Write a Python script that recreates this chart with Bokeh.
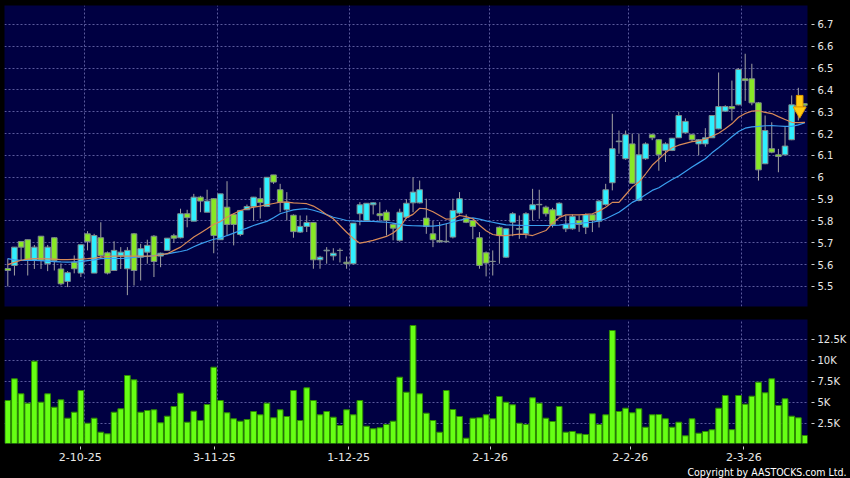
from bokeh.plotting import figure
from bokeh.layouts import column
from bokeh.models import Range1d, FixedTicker, Title, ColumnDataSource, GlobalInlineStyleSheet
from bokeh.embed import file_html
from bokeh.resources import INLINE

# ---------------- data ----------------
opens = [5.582, 5.596, 5.706, 5.714, 5.619, 5.730, 5.604, 5.723, 5.580, 5.523,
         5.611, 5.561, 5.741, 5.561, 5.723, 5.654, 5.573, 5.640, 5.581, 5.741,
         5.634, 5.657, 5.730, 5.639, 5.665, 5.732, 5.723, 5.833, 5.799, 5.909,
         5.840, 5.902, 5.714, 5.863, 5.830, 5.738, 5.851, 5.866, 5.902, 5.866,
         6.011, 5.943, 5.851, 5.826, 5.749, 5.775, 5.793, 5.622, 5.663, 5.640,
         5.665, 5.611, 5.604, 5.833, 5.802, 5.874, 5.833, 5.840, 5.784, 5.711,
         5.817, 5.883, 5.883, 5.813, 5.741, 5.710, 5.705, 5.726, 5.836, 5.813,
         5.802, 5.723, 5.654, 5.615, 5.771, 5.634, 5.794, 5.762, 5.741, 5.851,
         5.874, 5.863, 5.851, 5.825, 5.764, 5.764, 5.802, 5.771, 5.828, 5.799,
         5.875, 5.975, 6.163, 6.085, 6.153, 5.894, 6.085, 6.195, 6.172, 6.123,
         6.123, 6.181, 6.204, 6.195, 6.153, 6.153, 6.181, 6.222, 6.303, 6.324,
         6.332, 6.451, 6.451, 6.341, 6.062, 6.131, 6.103, 6.103, 6.172, 6.330,
         6.337]
highs = [5.628, 5.680, 5.706, 5.714, 5.690, 5.730, 5.690, 5.725, 5.605, 5.570,
         5.642, 5.691, 5.753, 5.741, 5.794, 5.660, 5.707, 5.680, 5.680, 5.745,
         5.695, 5.714, 5.735, 5.655, 5.721, 5.741, 5.856, 5.851, 5.924, 5.915,
         5.943, 5.905, 5.924, 5.982, 5.835, 5.850, 5.875, 5.910, 5.952, 6.000,
         6.011, 5.970, 5.932, 5.830, 5.825, 5.825, 5.795, 5.640, 5.680, 5.675,
         5.675, 5.637, 5.790, 5.886, 5.881, 5.885, 5.886, 5.851, 5.790, 5.856,
         5.900, 6.000, 5.985, 5.902, 5.800, 5.795, 5.790, 5.902, 5.932, 5.830,
         5.805, 5.749, 5.660, 5.665, 5.775, 5.765, 5.840, 5.825, 5.840, 5.947,
         5.943, 5.870, 5.860, 5.885, 5.825, 5.830, 5.825, 5.835, 5.830, 5.895,
         5.970, 6.291, 6.214, 6.214, 6.200, 6.200, 6.160, 6.200, 6.175, 6.160,
         6.180, 6.300, 6.270, 6.200, 6.175, 6.225, 6.285, 6.480, 6.330, 6.443,
         6.500, 6.566, 6.520, 6.345, 6.283, 6.252, 6.130, 6.230, 6.375, 6.410,
         6.340]
lows = [5.500, 5.550, 5.620, 5.550, 5.580, 5.580, 5.570, 5.573, 5.505, 5.497,
        5.560, 5.543, 5.665, 5.561, 5.628, 5.555, 5.573, 5.580, 5.460, 5.504,
        5.527, 5.604, 5.543, 5.588, 5.665, 5.700, 5.720, 5.771, 5.799, 5.840,
        5.840, 5.652, 5.714, 5.733, 5.688, 5.730, 5.850, 5.802, 5.811, 5.866,
        5.970, 5.840, 5.802, 5.723, 5.745, 5.749, 5.581, 5.581, 5.604, 5.619,
        5.610, 5.581, 5.600, 5.780, 5.800, 5.830, 5.800, 5.733, 5.711, 5.705,
        5.810, 5.840, 5.880, 5.741, 5.680, 5.700, 5.700, 5.720, 5.830, 5.790,
        5.717, 5.581, 5.546, 5.550, 5.604, 5.630, 5.730, 5.718, 5.720, 5.802,
        5.810, 5.820, 5.770, 5.820, 5.749, 5.760, 5.750, 5.740, 5.749, 5.770,
        5.870, 5.940, 6.108, 6.080, 5.970, 5.890, 6.080, 6.170, 6.030, 6.070,
        6.120, 6.180, 6.200, 6.165, 6.100, 6.140, 6.180, 6.220, 6.300, 6.260,
        6.330, 6.350, 6.330, 5.985, 6.060, 6.110, 6.023, 6.100, 6.170, 6.260,
        6.320]
closes = [5.573, 5.680, 5.680, 5.619, 5.680, 5.620, 5.680, 5.619, 5.512, 5.563,
          5.581, 5.691, 5.706, 5.733, 5.642, 5.561, 5.665, 5.657, 5.665, 5.573,
          5.673, 5.688, 5.614, 5.652, 5.721, 5.721, 5.833, 5.815, 5.909, 5.891,
          5.891, 5.733, 5.924, 5.784, 5.784, 5.848, 5.866, 5.909, 5.884, 6.000,
          5.978, 5.886, 5.886, 5.751, 5.775, 5.793, 5.622, 5.634, 5.666, 5.652,
          5.665, 5.604, 5.790, 5.874, 5.881, 5.883, 5.824, 5.802, 5.767, 5.840,
          5.881, 5.932, 5.943, 5.775, 5.714, 5.705, 5.707, 5.848, 5.902, 5.794,
          5.775, 5.596, 5.607, 5.614, 5.733, 5.764, 5.833, 5.765, 5.833, 5.874,
          5.876, 5.833, 5.784, 5.881, 5.784, 5.820, 5.784, 5.828, 5.802, 5.891,
          5.943, 6.131, 6.166, 6.195, 5.973, 6.103, 6.153, 6.181, 6.103, 6.153,
          6.179, 6.283, 6.256, 6.172, 6.172, 6.181, 6.283, 6.324, 6.324, 6.314,
          6.494, 6.443, 6.341, 6.034, 6.214, 6.115, 6.095, 6.143, 6.332, 6.300,
          6.330]
volumes = [5274, 7857, 6071, 4953, 9952, 5072, 6071, 4476, 5357, 3167,
           3881, 6464, 2571, 3167, 1500, 1310, 3881, 4286, 8250, 7738,
           3881, 4083, 4167, 2619, 3405, 4560, 6143, 2690, 4000, 2893,
           4798, 9238, 5274, 3810, 3095, 2810, 3012, 3964, 3571, 4953,
           3214, 4167, 3369, 6464, 2893, 6786, 5274, 3571, 3964, 3286,
           2298, 4167, 3571, 5274, 2214, 1905, 2024, 2417, 2810, 8048,
           6262, 14202, 6071, 3762, 2893, 1500, 6464, 4202, 3369, 786,
           3167, 3214, 3571, 3095, 5750, 5072, 4762, 2571, 2417, 5595,
           4953, 3167, 2774, 4560, 1500, 1583, 1310, 1230, 3690, 2417,
           3571, 13607, 3964, 4357, 3810, 4286, 2095, 3571, 3600, 3095,
           2095, 2690, 1071, 3095, 1381, 1583, 1786, 4357, 5869, 1800,
           5869, 4833, 5786, 7452, 6190, 7857, 4679, 5476, 3405, 3214,
           1107]
ma_short = [5.600, 5.610, 5.620, 5.625, 5.627, 5.627, 5.626, 5.625, 5.623, 5.623,
            5.624, 5.625, 5.627, 5.630, 5.634, 5.637, 5.639, 5.639, 5.639, 5.639,
            5.639, 5.639, 5.640, 5.645, 5.650, 5.665, 5.680, 5.703, 5.726, 5.745,
            5.764, 5.785, 5.797, 5.817, 5.833, 5.848, 5.856, 5.863, 5.868, 5.874,
            5.880, 5.886, 5.886, 5.883, 5.881, 5.879, 5.868, 5.850, 5.828, 5.810,
            5.779, 5.748, 5.720, 5.698, 5.704, 5.711, 5.720, 5.729, 5.745, 5.770,
            5.815, 5.830, 5.858, 5.855, 5.842, 5.825, 5.808, 5.810, 5.825, 5.820,
            5.810, 5.780, 5.755, 5.738, 5.733, 5.733, 5.736, 5.740, 5.738, 5.733,
            5.745, 5.756, 5.790, 5.815, 5.828, 5.828, 5.828, 5.830, 5.833, 5.845,
            5.863, 5.885, 5.885, 5.920, 5.955, 5.978, 6.015, 6.055, 6.083, 6.112,
            6.135, 6.147, 6.155, 6.163, 6.167, 6.175, 6.188, 6.202, 6.222, 6.245,
            6.275, 6.292, 6.303, 6.305, 6.297, 6.292, 6.278, 6.265, 6.252, 6.250,
            6.252]
ma_long = [5.627, 5.622, 5.619, 5.619, 5.619, 5.618, 5.616, 5.614, 5.612, 5.611,
           5.612, 5.614, 5.618, 5.622, 5.627, 5.628, 5.628, 5.628, 5.630, 5.633,
           5.636, 5.638, 5.641, 5.645, 5.649, 5.655, 5.660, 5.667, 5.682, 5.695,
           5.706, 5.716, 5.721, 5.733, 5.744, 5.756, 5.767, 5.779, 5.789, 5.798,
           5.815, 5.833, 5.842, 5.851, 5.854, 5.856, 5.849, 5.840, 5.829, 5.817,
           5.810, 5.802, 5.800, 5.798, 5.798, 5.798, 5.796, 5.794, 5.790, 5.784,
           5.780, 5.778, 5.777, 5.776, 5.776, 5.780, 5.787, 5.795, 5.803, 5.810,
           5.814, 5.808, 5.800, 5.794, 5.788, 5.782, 5.781, 5.780, 5.779, 5.779,
           5.779, 5.779, 5.779, 5.781, 5.785, 5.787, 5.789, 5.792, 5.794, 5.800,
           5.810, 5.825, 5.840, 5.862, 5.885, 5.900, 5.920, 5.940, 5.952, 5.972,
           5.990, 6.006, 6.027, 6.047, 6.066, 6.085, 6.112, 6.135, 6.160, 6.186,
           6.210, 6.225, 6.231, 6.233, 6.236, 6.237, 6.235, 6.233, 6.233, 6.240,
           6.250]

price_ticks = [5.5, 5.6, 5.7, 5.8, 5.9, 6.0, 6.1, 6.2, 6.3, 6.4, 6.5, 6.6, 6.7]
price_tick_labels = ["5.5", "5.6", "5.7", "5.8", "5.9", "6", "6.1", "6.2",
                     "6.3", "6.4", "6.5", "6.6", "6.7"]
vol_ticks = [2500, 5000, 7500, 10000, 12500]
vol_tick_labels = ["2.5K", "5K", "7.5K", "10K", "12.5K"]
date_tick_pos = [10.9, 31.1, 51.3, 72.6, 93.7, 110.8]
date_tick_labels = ["2-10-25", "3-11-25", "1-12-25", "2-1-26", "2-2-26", "2-3-26"]
month_grid_pos = [11.5, 31.5, 51.5, 72.5, 93.5, 110.4]
signal_x = [119.2]
signal_top = [6.375]
signal_neck = [6.322]
signal_head = [6.305]
copyright_text = "Copyright by AASTOCKS.com Ltd."

# ---------------- styles ----------------
BG = "#000042"
UP = "#2ff0ff"
DOWN = "#88e826"
GRID = "#5a5a9c"
TXT = "#e8e8e8"

n = len(closes)
idx = list(range(n))
colors = [UP if c >= o else DOWN for o, c in zip(opens, closes)]
src = ColumnDataSource(dict(
    x=idx, o=opens, h=highs, l=lows, c=closes,
    top=[max(o, c) for o, c in zip(opens, closes)],
    bot=[min(o, c) for o, c in zip(opens, closes)],
    color=colors, vol=volumes, ma1=ma_short, ma2=ma_long))

x_rng = Range1d(-0.497, 120.38)


def style_right_axis(ax, ticks, labels):
    ax.ticker = FixedTicker(ticks=ticks)
    ax.major_label_overrides = dict(zip(ticks, labels))
    ax.axis_line_color = None
    ax.major_tick_in = -4
    ax.major_tick_out = 7
    ax.major_tick_line_color = "#cfcfcf"
    ax.minor_tick_line_color = None
    ax.major_label_standoff = 3
    ax.major_label_text_color = TXT
    ax.major_label_text_font = "DejaVu Sans"
    ax.major_label_text_font_size = "10px"


# ---------------- price panel ----------------
p1 = figure(width=850, height=319, x_range=x_rng, y_range=Range1d(5.408, 6.787),
            output_backend="svg", toolbar_location=None,
            x_axis_location=None, y_axis_location="right",
            min_border_left=4, min_border_top=5, min_border_bottom=13,
            min_border_right=43, background_fill_color=BG,
            border_fill_color="black", outline_line_color=None)
style_right_axis(p1.yaxis[0], price_ticks, price_tick_labels)
for g in (p1.xgrid[0], p1.ygrid[0]):
    g.grid_line_color = GRID
    g.grid_line_dash = "2 2"
    g.grid_line_width = 1
p1.xgrid[0].ticker = FixedTicker(ticks=month_grid_pos)

p1.segment(x0="x", y0="h", x1="x", y1="l", source=src, line_color="#a2a2a2",
           line_width=1)
p1.vbar(x="x", top="top", bottom="bot", width=0.84, source=src,
        fill_color="color", line_color="#7f8c8c", line_width=1)
p1.line(x="x", y="ma2", source=src, line_color="#3a9ff0", line_width=1.2)
p1.line(x="x", y="ma1", source=src, line_color="#d88a58", line_width=1.2)

# signal arrow
p1.vbar(x=signal_x, top=signal_top, bottom=signal_neck, width=1.0,
        fill_color="#ffcc11", line_color="#e09a00", line_width=1)
p1.scatter(x=signal_x, y=signal_head, marker="inverted_triangle", size=13,
           fill_color="#ffcc11", line_color="#e09a00", line_width=1)

# ---------------- volume panel ----------------
p2 = figure(width=850, height=159, x_range=x_rng, y_range=Range1d(155, 14917),
            output_backend="svg", toolbar_location=None,
            x_axis_location="below", y_axis_location="right",
            min_border_left=4, min_border_top=0, min_border_bottom=35,
            min_border_right=43, background_fill_color=BG,
            border_fill_color="black", outline_line_color=None)
style_right_axis(p2.yaxis[0], vol_ticks, vol_tick_labels)
xa = p2.xaxis[0]
xa.ticker = FixedTicker(ticks=date_tick_pos)
xa.major_label_overrides = dict(zip(date_tick_pos, date_tick_labels))
xa.axis_line_color = None
xa.major_tick_in = -3
xa.major_tick_out = 6
xa.major_tick_line_color = "#cfcfcf"
xa.minor_tick_line_color = None
xa.major_label_standoff = 3
xa.major_label_text_color = TXT
xa.major_label_text_font = "DejaVu Sans"
xa.major_label_text_font_size = "11px"
for g in (p2.xgrid[0], p2.ygrid[0]):
    g.grid_line_color = GRID
    g.grid_line_dash = "2 2"
    g.grid_line_width = 1
p2.xgrid[0].ticker = FixedTicker(ticks=month_grid_pos)

p2.vbar(x="x", top="vol", bottom=0, width=0.86, source=src,
        fill_color="#66ff14", line_color="#2e8c00", line_width=1)

p2.add_layout(Title(text=copyright_text, align="right", offset=-39,
                    standoff=0, text_color="white",
                    text_font="DejaVu Sans Condensed",
                    text_font_size="10.5px", text_font_style="normal"),
              "below")

layout = column(p1, p2, spacing=0,
                stylesheets=[GlobalInlineStyleSheet(css="body{background:#000;}")])

open("out.html", "w").write(file_html(layout, INLINE))
